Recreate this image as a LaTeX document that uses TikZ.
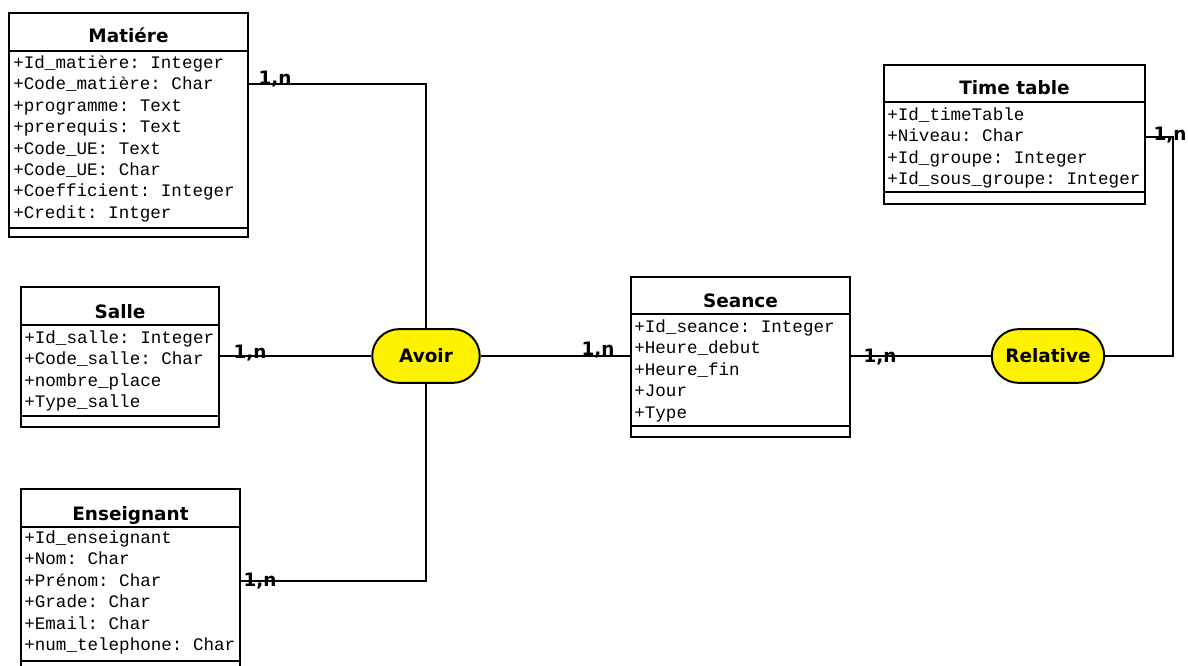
\documentclass[tikz,border=0pt]{standalone}
\usepackage{fontspec}
\setmainfont{DejaVu Sans}
\setmonofont{Liberation Mono}
\usetikzlibrary{fit,shapes.misc}

\begin{document}
\begin{tikzpicture}[x=0.02cm,y=-0.02cm,
    classbox/.style={draw,line width=1.1pt,inner sep=0pt},
    sepline/.style={line width=1.1pt},
    classtitle/.style={anchor=base,font=\fontsize{10.5}{12}\selectfont\bfseries},
    attrs/.style={anchor=north west,inner sep=0pt,align=left,
      font=\fontsize{10}{12.2}\selectfont\ttfamily},
    assoc/.style={shape=rounded rectangle,draw,line width=1.1pt,fill=yellow,
      minimum height=30.6pt,inner sep=0pt,font=\fontsize{10.5}{12}\selectfont\bfseries},
    link/.style={line width=1.2pt},
    card/.style={anchor=base,inner sep=0pt,font=\fontsize{10.5}{12}\selectfont\bfseries}]
  \useasboundingbox (0,0) rectangle (1188,666);

  % Matiere (top left)
  \node[classbox,fit={(9,13) (248,237)}] (matiere) {};
  \draw[sepline] (9,51) -- (248,51);
  \draw[sepline] (9,228) -- (248,228);
  \node[classtitle] (matiere-t) at (128.5,42) {Matiére};
  \node[attrs] (matiere-a) at (13,53) {\strut+Id\_matière: Integer\\+Code\_matière: Char\\
    +programme: Text\\+prerequis: Text\\+Code\_UE: Text\\+Code\_UE: Char\\
    +Coefficient: Integer\\+Credit: Intger};

  % Salle
  \node[classbox,fit={(21,287) (219,427)}] (salle) {};
  \draw[sepline] (21,325) -- (219,325);
  \draw[sepline] (21,416) -- (219,416);
  \node[classtitle] (salle-t) at (120,318) {Salle};
  \node[attrs] (salle-a) at (24,328) {\strut+Id\_salle: Integer\\+Code\_salle: Char\\
    +nombre\_place\\+Type\_salle};

  % Enseignant
  \node[classbox,fit={(21,489) (240,690)}] (enseignant) {};
  \draw[sepline] (21,527) -- (240,527);
  \draw[sepline] (21,661) -- (240,661);
  \node[classtitle] (enseignant-t) at (130.5,520) {Enseignant};
  \node[attrs] (enseignant-a) at (24,528) {\strut+Id\_enseignant\\+Nom: Char\\
    +Prénom: Char\\+Grade: Char\\+Email: Char\\+num\_telephone: Char};

  % Seance
  \node[classbox,fit={(631,277) (850,437)}] (seance) {};
  \draw[sepline] (631,314) -- (850,314);
  \draw[sepline] (631,426) -- (850,426);
  \node[classtitle] (seance-t) at (740.5,307) {Seance};
  \node[attrs] (seance-a) at (634,317) {\strut+Id\_seance: Integer\\+Heure\_debut\\
    +Heure\_fin\\+Jour\\+Type};

  % Time table
  \node[classbox,fit={(884,65) (1145,204)}] (timetable) {};
  \draw[sepline] (884,102) -- (1145,102);
  \draw[sepline] (884,192) -- (1145,192);
  \node[classtitle] (timetable-t) at (1014.5,94) {Time table};
  \node[attrs] (timetable-a) at (887,105) {\strut+Id\_timeTable\\+Niveau: Char\\
    +Id\_groupe: Integer\\+Id\_sous\_groupe: Integer};

  % associations
  \node[assoc,minimum width=61.2pt] (avoir) at (426,356) {Avoir};
  \node[assoc,minimum width=64pt] (relative) at (1048,356) {Relative};

  \coordinate (matiere-r) at (248,84);
  \coordinate (salle-r) at (219,356);
  \coordinate (enseignant-r) at (240,581);
  \coordinate (timetable-r) at (1145,137);

  \draw[link] (matiere-r) -| (avoir.north);
  \draw[link] (salle-r) -- (avoir.west);
  \draw[link] (enseignant-r) -| (avoir.south);
  \draw[link] (avoir.east) -- (avoir.east -| seance.west);
  \draw[link] (seance.east |- relative.west) -- (relative.west);
  \draw[link] (relative.east) -- ++(68,0) |- (timetable-r);

  % cardinalities
  \node[card] (card-matiere) at (275,84) {1,n};
  \node[card] (card-salle) at (250,358) {1,n};
  \node[card] (card-enseignant) at (260,586) {1,n};
  \node[card] (card-seance) at (598,355) {1,n};
  \node[card] (card-relative) at (880,362) {1,n};
  \node[card] (card-timetable) at (1170,140) {1,n};
\end{tikzpicture}
\end{document}
